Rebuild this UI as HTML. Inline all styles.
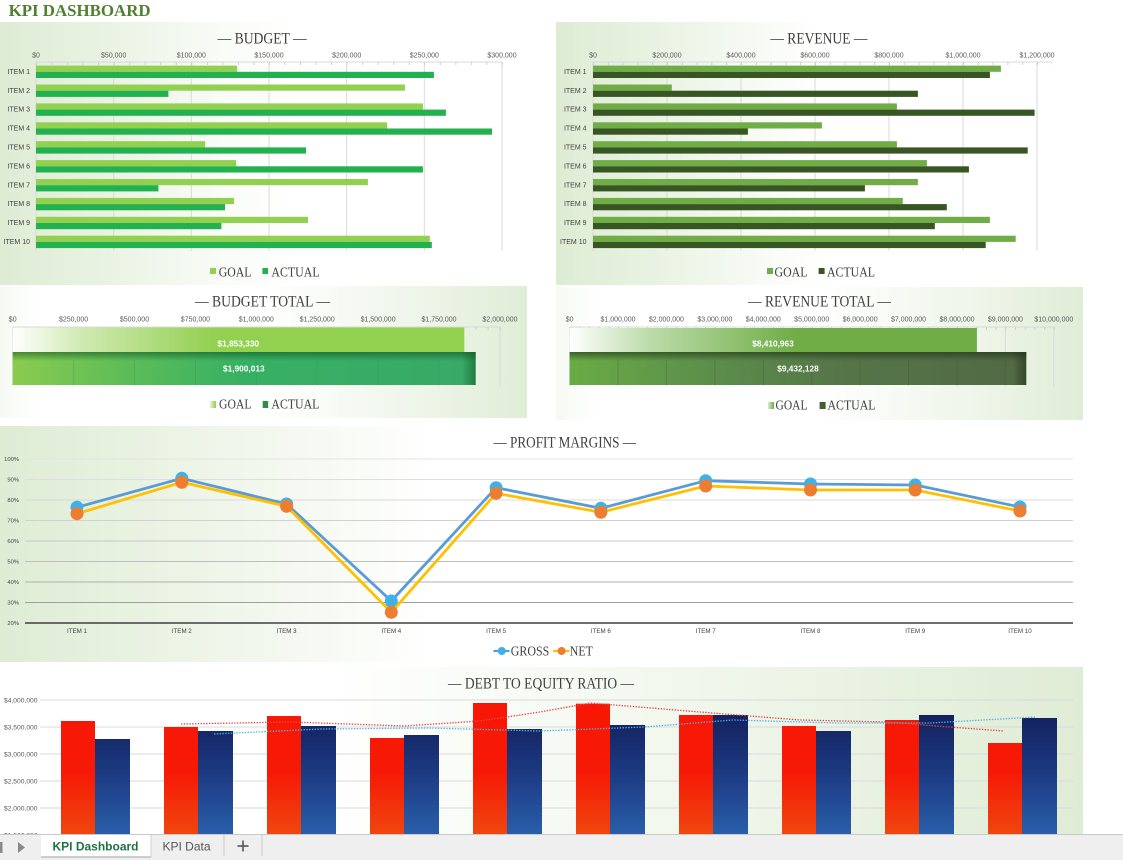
<!DOCTYPE html>
<html><head><meta charset="utf-8"><style>
html,body{margin:0;padding:0;background:#fff;}
svg{display:block;}
.ax{font-family:"Liberation Sans",Arial,sans-serif;font-size:7px;fill:#595959;}
.it{font-family:"Liberation Sans",Arial,sans-serif;font-size:7px;fill:#404040;}
.ti{font-family:"Liberation Serif","Times New Roman",serif;font-size:16px;fill:#404040;}
.lg{font-family:"Liberation Serif","Times New Roman",serif;font-size:14px;fill:#404040;}
.dl{font-family:"Liberation Sans",Arial,sans-serif;font-size:8.3px;font-weight:bold;fill:#fff;}
</style></head><body>
<svg width="1123" height="860" viewBox="0 0 1123 860" xmlns="http://www.w3.org/2000/svg">
<defs>
<linearGradient id="bgL1" x1="0" y1="0" x2="1" y2="0"><stop offset="0" stop-color="#deecd4"/><stop offset="0.2" stop-color="#e9f3e3"/><stop offset="0.42" stop-color="#fafcf8"/><stop offset="0.55" stop-color="#fff"/></linearGradient>
<linearGradient id="bgL2" x1="0" y1="0" x2="1" y2="0"><stop offset="0" stop-color="#deecd4"/><stop offset="0.15" stop-color="#e6f1df"/><stop offset="0.35" stop-color="#f5f9f2"/><stop offset="0.5" stop-color="#fff"/></linearGradient>
<linearGradient id="bgP" x1="0" y1="0" x2="1" y2="0"><stop offset="0" stop-color="#deecd4"/><stop offset="0.12" stop-color="#e8f2e1"/><stop offset="0.3" stop-color="#f7faf4"/><stop offset="0.4" stop-color="#fff"/></linearGradient>
<linearGradient id="bgR" x1="0" y1="0" x2="1" y2="0"><stop offset="0" stop-color="#f6faf3"/><stop offset="0.08" stop-color="#fff"/><stop offset="0.5" stop-color="#fff"/><stop offset="0.8" stop-color="#eef5e9"/><stop offset="1" stop-color="#e0edd6"/></linearGradient>
<linearGradient id="bgD" x1="0" y1="0" x2="1" y2="0"><stop offset="0" stop-color="#fff"/><stop offset="0.3" stop-color="#fff"/><stop offset="0.6" stop-color="#f3f8ef"/><stop offset="1" stop-color="#dfecd5"/></linearGradient>
<linearGradient id="btG" gradientUnits="userSpaceOnUse" x1="12.7" y1="0" x2="215" y2="0"><stop offset="0" stop-color="#ffffff"/><stop offset="0.35" stop-color="#cfe9b0"/><stop offset="1" stop-color="#92d050"/></linearGradient>
<linearGradient id="btA" gradientUnits="userSpaceOnUse" x1="12.7" y1="0" x2="476" y2="0"><stop offset="0" stop-color="#8acb4f"/><stop offset="0.25" stop-color="#5cbc58"/><stop offset="0.5" stop-color="#37b064"/><stop offset="0.97" stop-color="#39a967"/><stop offset="1" stop-color="#1f7a3c"/></linearGradient>
<linearGradient id="rtG" gradientUnits="userSpaceOnUse" x1="569.6" y1="0" x2="795" y2="0"><stop offset="0" stop-color="#ffffff"/><stop offset="0.35" stop-color="#bcdcaa"/><stop offset="1" stop-color="#70ad47"/></linearGradient>
<linearGradient id="rtA" gradientUnits="userSpaceOnUse" x1="569.6" y1="0" x2="1026.3" y2="0"><stop offset="0" stop-color="#69ab45"/><stop offset="0.3" stop-color="#5c8f4b"/><stop offset="0.6" stop-color="#557548"/><stop offset="0.97" stop-color="#526a46"/><stop offset="1" stop-color="#34482b"/></linearGradient>
<linearGradient id="shd" x1="0" y1="0" x2="0" y2="1"><stop offset="0" stop-color="#0d4d1c" stop-opacity="0.55"/><stop offset="1" stop-color="#0d4d1c" stop-opacity="0"/></linearGradient>
<linearGradient id="shd2" x1="0" y1="0" x2="0" y2="1"><stop offset="0" stop-color="#1c2e12" stop-opacity="0.6"/><stop offset="1" stop-color="#1c2e12" stop-opacity="0"/></linearGradient>
<linearGradient id="lgG1" x1="0" y1="0" x2="1" y2="0"><stop offset="0" stop-color="#e8f5da"/><stop offset="1" stop-color="#92d050"/></linearGradient>
<linearGradient id="lgG2" x1="0" y1="0" x2="1" y2="0"><stop offset="0" stop-color="#d8eccb"/><stop offset="1" stop-color="#70ad47"/></linearGradient>
<linearGradient id="red" gradientUnits="userSpaceOnUse" x1="0" y1="700" x2="0" y2="834"><stop offset="0" stop-color="#f91605"/><stop offset="0.55" stop-color="#f61a06"/><stop offset="1" stop-color="#f0460f"/></linearGradient>
<linearGradient id="blu" gradientUnits="userSpaceOnUse" x1="0" y1="712" x2="0" y2="834"><stop offset="0" stop-color="#13205c"/><stop offset="0.5" stop-color="#1c3a82"/><stop offset="1" stop-color="#2a5eaa"/></linearGradient>
</defs>

<!-- panel backgrounds -->
<rect x="0" y="22" width="540" height="263" fill="url(#bgL1)"/>
<rect x="556" y="22" width="527" height="263" fill="url(#bgL2)"/>
<rect x="0" y="286" width="527" height="132" fill="url(#bgR)"/>
<rect x="556" y="287" width="527" height="133" fill="url(#bgR)"/>
<rect x="0" y="426" width="1083" height="236" fill="url(#bgP)"/>
<rect x="0" y="667" width="1083" height="167" fill="url(#bgD)"/>

<!-- header -->
<text x="8.6" y="16" font-family="Liberation Serif,Times New Roman,serif" font-size="17" font-weight="bold" fill="#4f7f2f" textLength="142" lengthAdjust="spacingAndGlyphs">KPI DASHBOARD</text>

<!-- ================= BUDGET ================= -->
<text class="ti" x="217.6" y="43.3" textLength="89" lengthAdjust="spacingAndGlyphs">— BUDGET —</text>
<g stroke="#d9d9d9" stroke-width="1">
<line x1="113.7" y1="62" x2="113.7" y2="251"/><line x1="191.3" y1="62" x2="191.3" y2="251"/><line x1="269" y1="62" x2="269" y2="251"/><line x1="346.7" y1="62" x2="346.7" y2="251"/><line x1="424.3" y1="62" x2="424.3" y2="251"/><line x1="502" y1="62" x2="502" y2="251"/>
<line x1="36" y1="62" x2="36" y2="251"/><line x1="36" y1="62" x2="502" y2="62"/>
</g>
<line x1="36" y1="63.5" x2="503" y2="63.5" stroke="#d0d0d0" stroke-width="3" stroke-dasharray="1 14.53"/>
<g class="ax" text-anchor="middle">
<text x="36" y="57.5">$0</text><text x="113.7" y="57.5">$50,000</text><text x="191.3" y="57.5">$100,000</text><text x="269" y="57.5">$150,000</text><text x="346.7" y="57.5">$200,000</text><text x="424.3" y="57.5">$250,000</text><text x="502" y="57.5">$300,000</text>
</g>
<g class="it" text-anchor="end">
<text x="30" y="73.9">ITEM 1</text><text x="30" y="92.8">ITEM 2</text><text x="30" y="111.7">ITEM 3</text><text x="30" y="130.6">ITEM 4</text><text x="30" y="149.5">ITEM 5</text><text x="30" y="168.4">ITEM 6</text><text x="30" y="187.3">ITEM 7</text><text x="30" y="206.2">ITEM 8</text><text x="30" y="225.1">ITEM 9</text><text x="30" y="244">ITEM 10</text>
</g>
<g fill="#92d050">
<rect x="36" y="65.6" width="201.2" height="6.2"/><rect x="36" y="84.5" width="369" height="6.2"/><rect x="36" y="103.4" width="386.9" height="6.2"/><rect x="36" y="122.3" width="351.1" height="6.2"/><rect x="36" y="141.2" width="169.2" height="6.2"/><rect x="36" y="160.1" width="200.2" height="6.2"/><rect x="36" y="179" width="331.9" height="6.2"/><rect x="36" y="197.9" width="198.1" height="6.2"/><rect x="36" y="216.8" width="272" height="6.2"/><rect x="36" y="235.7" width="393.8" height="6.2"/>
</g>
<g fill="#23b04f">
<rect x="36" y="71.8" width="397.9" height="6.2"/><rect x="36" y="90.7" width="132.4" height="6.2"/><rect x="36" y="109.6" width="409.9" height="6.2"/><rect x="36" y="128.5" width="456" height="6.2"/><rect x="36" y="147.4" width="270" height="6.2"/><rect x="36" y="166.3" width="386.9" height="6.2"/><rect x="36" y="185.2" width="122.4" height="6.2"/><rect x="36" y="204.1" width="189.1" height="6.2"/><rect x="36" y="223" width="185.4" height="6.2"/><rect x="36" y="241.9" width="395.8" height="6.2"/>
</g>
<rect x="210" y="268" width="6" height="6" fill="#92d050"/>
<text class="lg" x="218.7" y="276.7" textLength="32.7" lengthAdjust="spacingAndGlyphs">GOAL</text>
<rect x="262.4" y="268" width="5.6" height="6" fill="#23b04f"/>
<text class="lg" x="271.4" y="276.7" textLength="48.2" lengthAdjust="spacingAndGlyphs">ACTUAL</text>

<!-- ================= REVENUE ================= -->
<text class="ti" x="770.4" y="43.3" textLength="97" lengthAdjust="spacingAndGlyphs">— REVENUE —</text>
<g stroke="#d9d9d9" stroke-width="1">
<line x1="667" y1="62" x2="667" y2="251"/><line x1="741" y1="62" x2="741" y2="251"/><line x1="815" y1="62" x2="815" y2="251"/><line x1="889" y1="62" x2="889" y2="251"/><line x1="963" y1="62" x2="963" y2="251"/><line x1="1037" y1="62" x2="1037" y2="251"/>
<line x1="593" y1="62" x2="593" y2="251"/><line x1="593" y1="62" x2="1052" y2="62"/>
</g>
<line x1="593" y1="63.5" x2="1052" y2="63.5" stroke="#d0d0d0" stroke-width="3" stroke-dasharray="1 13.8"/>
<g class="ax" text-anchor="middle">
<text x="593" y="57.5">$0</text><text x="667" y="57.5">$200,000</text><text x="741" y="57.5">$400,000</text><text x="815" y="57.5">$600,000</text><text x="889" y="57.5">$800,000</text><text x="963" y="57.5">$1,000,000</text><text x="1037" y="57.5">$1,200,000</text>
</g>
<g class="it" text-anchor="end">
<text x="586.5" y="73.9">ITEM 1</text><text x="586.5" y="92.8">ITEM 2</text><text x="586.5" y="111.7">ITEM 3</text><text x="586.5" y="130.6">ITEM 4</text><text x="586.5" y="149.5">ITEM 5</text><text x="586.5" y="168.4">ITEM 6</text><text x="586.5" y="187.3">ITEM 7</text><text x="586.5" y="206.2">ITEM 8</text><text x="586.5" y="225.1">ITEM 9</text><text x="586.5" y="244">ITEM 10</text>
</g>
<g fill="#70ad47">
<rect x="593" y="65.6" width="407.9" height="6.2"/><rect x="593" y="84.5" width="78.8" height="6.2"/><rect x="593" y="103.4" width="303.9" height="6.2"/><rect x="593" y="122.3" width="228.9" height="6.2"/><rect x="593" y="141.2" width="303.9" height="6.2"/><rect x="593" y="160.1" width="333.9" height="6.2"/><rect x="593" y="179" width="324.9" height="6.2"/><rect x="593" y="197.9" width="309.8" height="6.2"/><rect x="593" y="216.8" width="396.9" height="6.2"/><rect x="593" y="235.7" width="422.7" height="6.2"/>
</g>
<g fill="#375623">
<rect x="593" y="71.8" width="396.9" height="6.2"/><rect x="593" y="90.7" width="324.9" height="6.2"/><rect x="593" y="109.6" width="441.6" height="6.2"/><rect x="593" y="128.5" width="154.9" height="6.2"/><rect x="593" y="147.4" width="434.7" height="6.2"/><rect x="593" y="166.3" width="375.9" height="6.2"/><rect x="593" y="185.2" width="271.9" height="6.2"/><rect x="593" y="204.1" width="353.8" height="6.2"/><rect x="593" y="223" width="341.8" height="6.2"/><rect x="593" y="241.9" width="392.7" height="6.2"/>
</g>
<rect x="767" y="268" width="6" height="6" fill="#70ad47"/>
<text class="lg" x="774.5" y="276.7" textLength="33" lengthAdjust="spacingAndGlyphs">GOAL</text>
<rect x="818.6" y="268" width="6" height="6" fill="#375623"/>
<text class="lg" x="827" y="276.7" textLength="48" lengthAdjust="spacingAndGlyphs">ACTUAL</text>

<!-- ================= BUDGET TOTAL ================= -->
<text class="ti" x="195" y="306.7" textLength="135" lengthAdjust="spacingAndGlyphs">— BUDGET TOTAL —</text>
<g stroke="#d9d9d9" stroke-width="1">
<line x1="12.7" y1="327" x2="12.7" y2="386"/><line x1="73.6" y1="327" x2="73.6" y2="386"/><line x1="134.5" y1="327" x2="134.5" y2="386"/><line x1="195.4" y1="327" x2="195.4" y2="386"/><line x1="256.3" y1="327" x2="256.3" y2="386"/><line x1="317.2" y1="327" x2="317.2" y2="386"/><line x1="378.1" y1="327" x2="378.1" y2="386"/><line x1="439" y1="327" x2="439" y2="386"/><line x1="500" y1="327" x2="500" y2="386"/>
<line x1="12.7" y1="327" x2="500" y2="327"/>
</g>
<line x1="12.7" y1="328.5" x2="501" y2="328.5" stroke="#cfcfcf" stroke-width="3" stroke-dasharray="1 11.18"/>
<g class="ax" text-anchor="middle">
<text x="12.7" y="321.7">$0</text><text x="73.6" y="321.7">$250,000</text><text x="134.5" y="321.7">$500,000</text><text x="195.4" y="321.7">$750,000</text><text x="256.3" y="321.7">$1,000,000</text><text x="317.2" y="321.7">$1,250,000</text><text x="378.1" y="321.7">$1,500,000</text><text x="439" y="321.7">$1,750,000</text><text x="500" y="321.7">$2,000,000</text>
</g>
<rect x="12.7" y="327.5" width="451.6" height="32.5" fill="url(#btG)"/>
<rect x="12.7" y="352" width="463" height="33" fill="url(#btA)"/>
<rect x="12.7" y="352" width="463" height="9" fill="url(#shd)"/>
<g stroke="#2a9a55" stroke-opacity="0.35" stroke-width="1">
<line x1="73.6" y1="360" x2="73.6" y2="385"/><line x1="134.5" y1="360" x2="134.5" y2="385"/><line x1="195.4" y1="360" x2="195.4" y2="385"/><line x1="256.3" y1="360" x2="256.3" y2="385"/><line x1="317.2" y1="360" x2="317.2" y2="385"/><line x1="378.1" y1="360" x2="378.1" y2="385"/><line x1="439" y1="360" x2="439" y2="385"/>
</g>
<text class="dl" x="238.3" y="346.5" text-anchor="middle">$1,853,330</text>
<text class="dl" x="243.8" y="371.5" text-anchor="middle">$1,900,013</text>
<rect x="210" y="401" width="6" height="7" fill="url(#lgG1)"/>
<text class="lg" x="219" y="408.5" textLength="32.5" lengthAdjust="spacingAndGlyphs">GOAL</text>
<rect x="262.7" y="401" width="5.5" height="7" fill="#2e8b4a"/>
<text class="lg" x="271.4" y="408.5" textLength="48" lengthAdjust="spacingAndGlyphs">ACTUAL</text>

<!-- ================= REVENUE TOTAL ================= -->
<text class="ti" x="748" y="306.7" textLength="143" lengthAdjust="spacingAndGlyphs">— REVENUE TOTAL —</text>
<g stroke="#d9d9d9" stroke-width="1">
<line x1="569.6" y1="327" x2="569.6" y2="386"/><line x1="618" y1="327" x2="618" y2="386"/><line x1="666.4" y1="327" x2="666.4" y2="386"/><line x1="714.9" y1="327" x2="714.9" y2="386"/><line x1="763.3" y1="327" x2="763.3" y2="386"/><line x1="811.7" y1="327" x2="811.7" y2="386"/><line x1="860.1" y1="327" x2="860.1" y2="386"/><line x1="908.5" y1="327" x2="908.5" y2="386"/><line x1="957" y1="327" x2="957" y2="386"/><line x1="1005.4" y1="327" x2="1005.4" y2="386"/><line x1="1053.8" y1="327" x2="1053.8" y2="386"/>
<line x1="569.6" y1="327" x2="1053.8" y2="327"/>
</g>
<line x1="569.6" y1="328.5" x2="1054.8" y2="328.5" stroke="#cfcfcf" stroke-width="3" stroke-dasharray="1 8.684"/>
<g class="ax" text-anchor="middle">
<text x="569.6" y="321.7">$0</text><text x="618" y="321.7">$1,000,000</text><text x="666.4" y="321.7">$2,000,000</text><text x="714.9" y="321.7">$3,000,000</text><text x="763.3" y="321.7">$4,000,000</text><text x="811.7" y="321.7">$5,000,000</text><text x="860.1" y="321.7">$6,000,000</text><text x="908.5" y="321.7">$7,000,000</text><text x="957" y="321.7">$8,000,000</text><text x="1005.4" y="321.7">$9,000,000</text><text x="1053.8" y="321.7">$10,000,000</text>
</g>
<rect x="569.6" y="328" width="407.3" height="32" fill="url(#rtG)"/>
<rect x="569.6" y="352" width="456.7" height="33" fill="url(#rtA)"/>
<rect x="569.6" y="352" width="456.7" height="9" fill="url(#shd2)"/>
<g stroke="#3f5a35" stroke-opacity="0.35" stroke-width="1">
<line x1="618" y1="360" x2="618" y2="385"/><line x1="666.4" y1="360" x2="666.4" y2="385"/><line x1="714.9" y1="360" x2="714.9" y2="385"/><line x1="763.3" y1="360" x2="763.3" y2="385"/><line x1="811.7" y1="360" x2="811.7" y2="385"/><line x1="860.1" y1="360" x2="860.1" y2="385"/><line x1="908.5" y1="360" x2="908.5" y2="385"/><line x1="957" y1="360" x2="957" y2="385"/><line x1="1005.4" y1="360" x2="1005.4" y2="385"/>
</g>
<text class="dl" x="773" y="346.5" text-anchor="middle">$8,410,963</text>
<text class="dl" x="798" y="371.5" text-anchor="middle">$9,432,128</text>
<rect x="768" y="402" width="6" height="7" fill="url(#lgG2)"/>
<text class="lg" x="775.5" y="409.3" textLength="32" lengthAdjust="spacingAndGlyphs">GOAL</text>
<rect x="819.6" y="402" width="6" height="7" fill="#3f5e31"/>
<text class="lg" x="827.5" y="409.3" textLength="48" lengthAdjust="spacingAndGlyphs">ACTUAL</text>

<!-- ================= PROFIT MARGINS ================= -->
<text class="ti" x="493.5" y="447.7" textLength="142.5" lengthAdjust="spacingAndGlyphs">— PROFIT MARGINS —</text>
<g stroke-width="1">
<line x1="25" y1="459" x2="1073" y2="459" stroke="#e3e3e3"/>
<line x1="25" y1="479.5" x2="1073" y2="479.5" stroke="#dedede"/>
<line x1="25" y1="500" x2="1073" y2="500" stroke="#d8d8d8"/>
<line x1="25" y1="520.5" x2="1073" y2="520.5" stroke="#d1d1d1"/>
<line x1="25" y1="541" x2="1073" y2="541" stroke="#c8c8c8"/>
<line x1="25" y1="561.5" x2="1073" y2="561.5" stroke="#bdbdbd"/>
<line x1="25" y1="582" x2="1073" y2="582" stroke="#afafaf"/>
<line x1="25" y1="602.5" x2="1073" y2="602.5" stroke="#9f9f9f"/>
<line x1="25" y1="623" x2="1073" y2="623" stroke="#3f3f3f" stroke-width="1.4"/>
</g>
<g font-family="Liberation Sans,Arial,sans-serif" font-size="5.8" fill="#404040" text-anchor="end">
<text x="19" y="461">100%</text><text x="19" y="481.5">90%</text><text x="19" y="502">80%</text><text x="19" y="522.5">70%</text><text x="19" y="543">60%</text><text x="19" y="563.5">50%</text><text x="19" y="584">40%</text><text x="19" y="604.5">30%</text><text x="19" y="625">20%</text>
</g>
<g font-family="Liberation Sans,Arial,sans-serif" font-size="6.2" fill="#404040" text-anchor="middle">
<text x="77" y="633">ITEM 1</text><text x="181.8" y="633">ITEM 2</text><text x="286.6" y="633">ITEM 3</text><text x="391.3" y="633">ITEM 4</text><text x="496.1" y="633">ITEM 5</text><text x="600.9" y="633">ITEM 6</text><text x="705.7" y="633">ITEM 7</text><text x="810.5" y="633">ITEM 8</text><text x="915.2" y="633">ITEM 9</text><text x="1020" y="633">ITEM 10</text>
</g>
<polyline fill="none" stroke="#5b9bd5" stroke-width="2.8" stroke-linejoin="round" points="77,507.3 181.8,478.3 286.6,504 391.3,601 496.1,487.7 600.9,508.3 705.7,480.7 810.5,484 915.2,485 1020,507"/>
<g fill="#3eb1e8">
<circle cx="77" cy="507.3" r="6.5"/><circle cx="181.8" cy="478.3" r="6.5"/><circle cx="286.6" cy="504" r="6.5"/><circle cx="391.3" cy="601" r="6.5"/><circle cx="496.1" cy="487.7" r="6.5"/><circle cx="600.9" cy="508.3" r="6.5"/><circle cx="705.7" cy="480.7" r="6.5"/><circle cx="810.5" cy="484" r="6.5"/><circle cx="915.2" cy="485" r="6.5"/><circle cx="1020" cy="507" r="6.5"/>
</g>
<polyline fill="none" stroke="#ffc000" stroke-width="2.8" stroke-linejoin="round" points="77,513.7 181.8,482.3 286.6,506.3 391.3,612.3 496.1,493.3 600.9,512.3 705.7,486 810.5,490 915.2,490 1020,511"/>
<g fill="#ed7d31">
<circle cx="77" cy="513.7" r="6.5"/><circle cx="181.8" cy="482.3" r="6.5"/><circle cx="286.6" cy="506.3" r="6.5"/><circle cx="391.3" cy="612.3" r="6.5"/><circle cx="496.1" cy="493.3" r="6.5"/><circle cx="600.9" cy="512.3" r="6.5"/><circle cx="705.7" cy="486" r="6.5"/><circle cx="810.5" cy="490" r="6.5"/><circle cx="915.2" cy="490" r="6.5"/><circle cx="1020" cy="511" r="6.5"/>
</g>
<line x1="493.5" y1="651" x2="509.5" y2="651" stroke="#5b9bd5" stroke-width="2.2"/>
<circle cx="501.8" cy="651" r="4" fill="#3eb1e8"/>
<text class="lg" x="510.8" y="655.5" textLength="38.5" lengthAdjust="spacingAndGlyphs">GROSS</text>
<line x1="553" y1="651" x2="569.5" y2="651" stroke="#ffc000" stroke-width="2.2"/>
<circle cx="561.6" cy="651" r="4" fill="#ed7d31"/>
<text class="lg" x="569.8" y="655.5" textLength="23" lengthAdjust="spacingAndGlyphs">NET</text>

<!-- ================= DEBT TO EQUITY ================= -->
<text class="ti" x="448" y="688.3" textLength="186" lengthAdjust="spacingAndGlyphs">— DEBT TO EQUITY RATIO —</text>
<g stroke="#d9d9d9" stroke-width="1">
<line x1="40" y1="700" x2="1073" y2="700"/><line x1="40" y1="727" x2="1073" y2="727"/><line x1="40" y1="754" x2="1073" y2="754"/><line x1="40" y1="781" x2="1073" y2="781"/><line x1="40" y1="808" x2="1073" y2="808"/>
</g>
<g font-family="Liberation Sans,Arial,sans-serif" font-size="6.7" fill="#595959" text-anchor="end">
<text x="37.5" y="702.4">$4,000,000</text><text x="37.5" y="729.4">$3,500,000</text><text x="37.5" y="756.4">$3,000,000</text><text x="37.5" y="783.4">$2,500,000</text><text x="37.5" y="810.4">$2,000,000</text><text x="37.5" y="837.4">$1,500,000</text>
</g>
<g fill="url(#red)">
<rect x="61" y="721" width="34" height="113"/><rect x="164" y="727" width="34" height="107"/><rect x="267" y="716" width="34" height="118"/><rect x="370" y="738" width="34" height="96"/><rect x="473" y="703" width="34" height="131"/><rect x="576" y="703.7" width="34" height="130.3"/><rect x="679" y="715" width="34" height="119"/><rect x="782" y="726" width="34" height="108"/><rect x="885" y="720" width="34" height="114"/><rect x="988" y="743" width="34" height="91"/>
</g>
<g fill="url(#blu)">
<rect x="95" y="739" width="35" height="95"/><rect x="198" y="731" width="35" height="103"/><rect x="301" y="726" width="35" height="108"/><rect x="404" y="735" width="35" height="99"/><rect x="507" y="729" width="35" height="105"/><rect x="610" y="725" width="35" height="109"/><rect x="713" y="715" width="35" height="119"/><rect x="816" y="731" width="35" height="103"/><rect x="919" y="715" width="35" height="119"/><rect x="1022" y="718" width="35" height="116"/>
</g>
<polyline fill="none" stroke="#e0474a" stroke-width="1.3" stroke-dasharray="1.4 1.4" points="181,724 290,722 404,726 480,721 540,712 590,703 700,712 800,720 886,722 949,727 1004,731"/>
<polyline fill="none" stroke="#4ab3e6" stroke-width="1.3" stroke-dasharray="1.4 1.4" points="214,734 321,729 428,728 540,731 644,727 733,720 837,723 930,723 1036,717"/>

<!-- ================= TAB BAR ================= -->
<rect x="0" y="834" width="1123" height="26" fill="#efefef"/>
<line x1="0" y1="834.5" x2="1123" y2="834.5" stroke="#c9c9c9" stroke-width="1"/>
<rect x="0" y="842" width="2.5" height="11" fill="#8a8a8a"/>
<polygon points="18,842 25,847.5 18,853" fill="#8a8a8a"/>
<rect x="41" y="835" width="110" height="22" fill="#ffffff"/>
<line x1="41" y1="857" x2="151" y2="857" stroke="#b5b5b5" stroke-width="1.2"/>
<line x1="151" y1="835" x2="151" y2="857" stroke="#d0d0d0" stroke-width="1"/>
<text x="95.5" y="850.5" text-anchor="middle" font-family="Liberation Sans,Arial,sans-serif" font-size="12" font-weight="bold" fill="#1f7244">KPI Dashboard</text>
<text x="162.5" y="850.5" font-family="Liberation Sans,Arial,sans-serif" font-size="12" fill="#555">KPI Data</text>
<line x1="224" y1="835" x2="224" y2="856" stroke="#c8c8c8" stroke-width="1"/>
<line x1="262" y1="835" x2="262" y2="856" stroke="#c8c8c8" stroke-width="1"/>
<line x1="237.5" y1="846" x2="248.5" y2="846" stroke="#555" stroke-width="1.6"/>
<line x1="243" y1="840.5" x2="243" y2="851.5" stroke="#555" stroke-width="1.6"/>
</svg>
</body></html>
